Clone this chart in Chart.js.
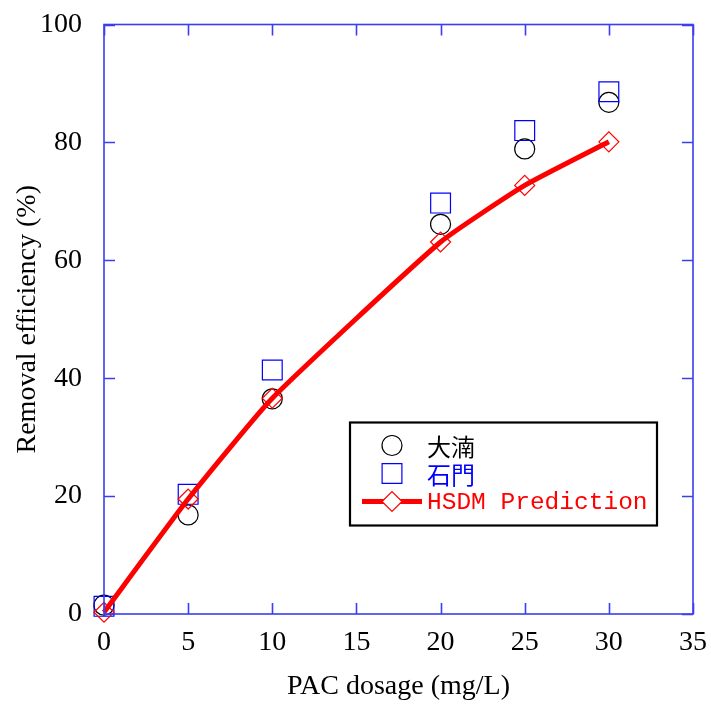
<!DOCTYPE html>
<html>
<head>
<meta charset="utf-8">
<script src="https://cdn.jsdelivr.net/npm/chart.js@4/dist/chart.umd.min.js"></script>
<style>
  html, body { margin: 0; padding: 0; background: #fff; }
  #wrap { width: 711px; height: 704px; }
</style>
</head>
<body>
<div id="wrap"><canvas id="c" width="711" height="704"></canvas></div>
<script>
// PAC dosage (mg/L)
const dosage = [0, 5, 10, 20, 25, 30];
// Removal efficiency (%) by water source
const dahanValues = [1.5, 16.8, 36.5, 66.1, 78.9, 86.8];
const shimenValues = [1.3, 20.3, 41.4, 69.7, 82.0, 88.6];
// HSDM model prediction
const hsdmValues = [0.3, 19.5, 36.6, 63.1, 72.7, 80.1];

const xTicks = [0, 5, 10, 15, 20, 25, 30, 35];
const yTicks = [0, 20, 40, 60, 80, 100];

const seriesNames = ['大湳', '石門', 'HSDM Prediction'];
const axisTitleX = 'PAC dosage (mg/L)';
const axisTitleY = 'Removal efficiency (%)';

const toPoints = (xs, ys) => xs.map((x, i) => ({ x: x, y: ys[i] }));

const AXIS_BLUE = '#3c3cf0';
const SERIF = '"Liberation Serif", "Times New Roman", serif';
const FONT_SIZE = 28;

// Boxed frame with inward ticks on all four sides
const framePlugin = {
  id: 'frame',
  afterDatasetsDraw(chart) {
    const { ctx, chartArea: a, scales } = chart;
    ctx.save();
    ctx.strokeStyle = AXIS_BLUE;
    ctx.lineWidth = 1.6;
    ctx.strokeRect(a.left, a.top, a.right - a.left, a.bottom - a.top);
    const len = 11;
    ctx.beginPath();
    xTicks.forEach(v => {
      const px = Math.round(scales.x.getPixelForValue(v)) + 0.5;
      ctx.moveTo(px, a.bottom); ctx.lineTo(px, a.bottom - len);
      ctx.moveTo(px, a.top); ctx.lineTo(px, a.top + len);
    });
    yTicks.forEach(v => {
      const py = Math.round(scales.y.getPixelForValue(v)) + 0.5;
      ctx.moveTo(a.left, py); ctx.lineTo(a.left + len, py);
      ctx.moveTo(a.right, py); ctx.lineTo(a.right - len, py);
    });
    ctx.stroke();
    ctx.restore();
  }
};

// Boxed legend inside the plot, text coloured like each series
const boxLegendPlugin = {
  id: 'boxLegend',
  afterDraw(chart) {
    const { ctx, chartArea: a } = chart;
    const left = a.left + 246, top = a.top + 398, w = 307, h = 103;
    ctx.save();
    ctx.fillStyle = '#fff';
    ctx.fillRect(left, top, w, h);
    ctx.strokeStyle = '#000';
    ctx.lineWidth = 2.2;
    ctx.strokeRect(left, top, w, h);
    const rows = [top + 23, top + 51, top + 79];
    const symX = left + 42;
    chart.data.datasets.forEach((ds, i) => {
      const y = rows[i];
      if (ds.showLine) {
        ctx.strokeStyle = ds.borderColor;
        ctx.lineWidth = ds.borderWidth;
        ctx.beginPath();
        ctx.moveTo(left + 12, y);
        ctx.lineTo(left + 72, y);
        ctx.stroke();
      }
      ctx.fillStyle = '#fff';
      ctx.strokeStyle = ds.pointBorderColor;
      ctx.lineWidth = ds.pointBorderWidth;
      Chart.helpers.drawPoint(ctx, {
        pointStyle: ds.pointStyle,
        radius: ds.pointRadius,
        rotation: 0,
        borderWidth: ds.pointBorderWidth
      }, symX, y);
      ctx.textBaseline = 'middle';
      ctx.textAlign = 'left';
      ctx.fillStyle = ds.pointBorderColor;
      ctx.font = i === 2 ? '24.5px "Liberation Mono", monospace' : '24px "Noto Sans CJK TC", sans-serif';
      ctx.fillText(ds.label, left + 77, y + 1);
    });
    ctx.restore();
  }
};

const chart = new Chart(document.getElementById('c'), {
  type: 'scatter',
  data: {
    datasets: [
      {
        label: seriesNames[0],
        data: toPoints(dosage, dahanValues),
        pointStyle: 'circle',
        pointRadius: 10,
        pointBorderColor: '#000000',
        pointBackgroundColor: 'rgba(0,0,0,0)',
        pointBorderWidth: 1.2,
        showLine: false,
        clip: false,
        order: 2
      },
      {
        label: seriesNames[1],
        data: toPoints(dosage, shimenValues),
        pointStyle: 'rect',
        pointRadius: 14,
        pointBorderColor: '#0000ff',
        pointBackgroundColor: 'rgba(0,0,0,0)',
        pointBorderWidth: 1.2,
        showLine: false,
        clip: false,
        order: 1
      },
      {
        label: seriesNames[2],
        data: toPoints(dosage, hsdmValues),
        pointStyle: 'rectRot',
        pointRadius: 10,
        pointBorderColor: '#ff0000',
        pointBackgroundColor: 'rgba(0,0,0,0)',
        pointBorderWidth: 1.2,
        borderColor: '#ff0000',
        borderWidth: 5,
        showLine: true,
        tension: 0.15,
        clip: false,
        order: 0
      }
    ]
  },
  options: {
    responsive: false,
    animation: false,
    events: [],
    layout: { padding: { top: 24.5, right: 13, bottom: 0, left: 0 } },
    plugins: {
      legend: { display: false },
      tooltip: { enabled: false }
    },
    scales: {
      x: {
        type: 'linear',
        min: 0, max: 35,
        afterBuildTicks(scale) { scale.ticks = xTicks.map(v => ({ value: v })); },
        afterFit(scale) { scale.height = 90; },
        grid: { display: false },
        border: { display: false },
        ticks: { color: '#000', font: { family: SERIF, size: FONT_SIZE }, padding: 4 },
        title: { display: true, text: axisTitleX, color: '#000', font: { family: SERIF, size: FONT_SIZE }, padding: { top: 1, bottom: 1 } }
      },
      y: {
        type: 'linear',
        min: 0, max: 100,
        afterBuildTicks(scale) { scale.ticks = yTicks.map(v => ({ value: v })); },
        afterFit(scale) { scale.width = 104; scale.paddingTop = 0; scale.paddingBottom = 0; },
        grid: { display: false },
        border: { display: false },
        ticks: { color: '#000', font: { family: SERIF, size: FONT_SIZE }, padding: 14 },
        title: { display: true, text: axisTitleY, color: '#000', font: { family: SERIF, size: FONT_SIZE }, padding: { top: 11, bottom: 0 } }
      }
    }
  },
  plugins: [framePlugin, boxLegendPlugin]
});
</script>
</body>
</html>
